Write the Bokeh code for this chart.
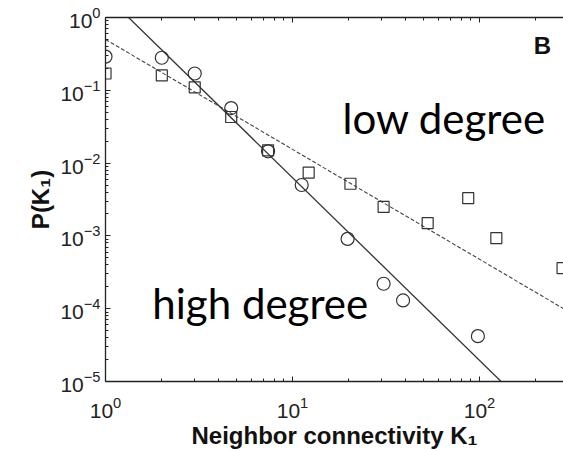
from bokeh.plotting import figure
from bokeh.models import LogAxis, FixedTicker, Label
from bokeh.embed import file_html
from bokeh.resources import INLINE

# Data
high_k = [1, 2, 3, 4.7, 7.4, 11.2, 19.7, 30.7, 39, 98]
high_p = [0.29, 0.28, 0.17, 0.057, 0.0145, 0.005, 9.1e-4, 2.2e-4, 1.3e-4, 4.2e-5]
low_k = [1, 2, 3, 4.7, 7.4, 12.2, 20.4, 30.7, 52.8, 87, 123, 278]
low_p = [0.17, 0.16, 0.11, 0.043, 0.015, 0.0074, 0.0052, 0.0025, 0.0015, 0.0033, 9.3e-4, 3.6e-4]

# power-law fits  P = amp * K^exp
high_amp, high_exp = 2.04, -2.51
low_amp, low_exp = 0.5, -1.51
fit_k = [1, 300]

x_major = [1, 10, 100]
x_minor = [k * 10 ** d for d in range(0, 3) for k in range(2, 10)]
y_major = [1e-5, 1e-4, 1e-3, 1e-2, 1e-1, 1]
y_minor = [k * 10.0 ** d for d in range(-5, 0) for k in range(2, 10)]

p = figure(width=563, height=451, x_axis_type="log", y_axis_type="log",
           x_range=(1, 10 ** 2.449), y_range=(1e-5, 1),
           output_backend="svg", toolbar_location=None,
           min_border_left=105, min_border_right=0, min_border_top=17, min_border_bottom=68)
p.grid.visible = False
p.outline_line_color = None
p.background_fill_color = "white"

tick_font = "Liberation Sans"
for ax in (p.xaxis[0], p.yaxis[0]):
    ax.axis_line_color = "#222222"
    ax.axis_line_width = 1.3
    ax.major_tick_line_color = "#222222"
    ax.minor_tick_line_color = "#222222"
    ax.major_tick_in = 5
    ax.major_tick_out = 0
    ax.minor_tick_in = 3
    ax.minor_tick_out = 0
    ax.major_label_text_font = tick_font
    ax.major_label_text_font_size = "21px"
    ax.major_label_text_color = "#222222"
    ax.axis_label_text_font = tick_font
    ax.axis_label_text_font_style = "bold"
    ax.axis_label_text_font_size = "24px"
    ax.axis_label_text_color = "#111111"

p.xaxis.ticker = FixedTicker(ticks=x_major, minor_ticks=x_minor)
p.yaxis.ticker = FixedTicker(ticks=y_major, minor_ticks=y_minor)
p.xaxis.axis_label = "Neighbor connectivity K\u2081"
p.yaxis.axis_label = "P(K\u2081)"
p.xaxis.major_label_standoff = 15
p.xaxis.axis_label_standoff = 1
p.yaxis.major_label_standoff = 5
p.yaxis.axis_label_standoff = 3

top = LogAxis(ticker=FixedTicker(ticks=x_major, minor_ticks=x_minor),
              axis_line_color="#222222", axis_line_width=1.3,
              major_tick_line_color="#222222", minor_tick_line_color="#222222",
              major_tick_in=5, major_tick_out=0, minor_tick_in=3, minor_tick_out=0,
              major_label_text_font_size="1px", major_label_text_color=None,
              major_label_standoff=0)
p.add_layout(top, "above")

high_fit = [high_amp * k ** high_exp for k in fit_k]
low_fit = [low_amp * k ** low_exp for k in fit_k]
p.line(fit_k, high_fit, line_color="#333333", line_width=1.3)
p.line(fit_k, low_fit, line_color="#444444", line_width=1.1, line_dash="4 2")

p.scatter(high_k, high_p, marker="circle", size=13, fill_color=None,
          line_color="#333333", line_width=1.2)
p.scatter(low_k, low_p, marker="square", size=11, fill_color=None,
          line_color="#333333", line_width=1.2)

p.add_layout(Label(x=18.5, y=0.042, text="low degree", text_font="Lato",
                   text_font_size="42px", text_color="black", text_baseline="alphabetic"))
p.add_layout(Label(x=1.78, y=1.18e-4, text="high degree", text_font="Lato",
                   text_font_size="42px", text_color="black", text_baseline="alphabetic"))
p.add_layout(Label(x=217, y=0.417, text="B", text_font=tick_font, text_font_style="bold",
                   text_font_size="24px", text_color="#111111",
                   text_align="center", text_baseline="middle"))

open("out.html", "w").write(file_html(p, INLINE))
